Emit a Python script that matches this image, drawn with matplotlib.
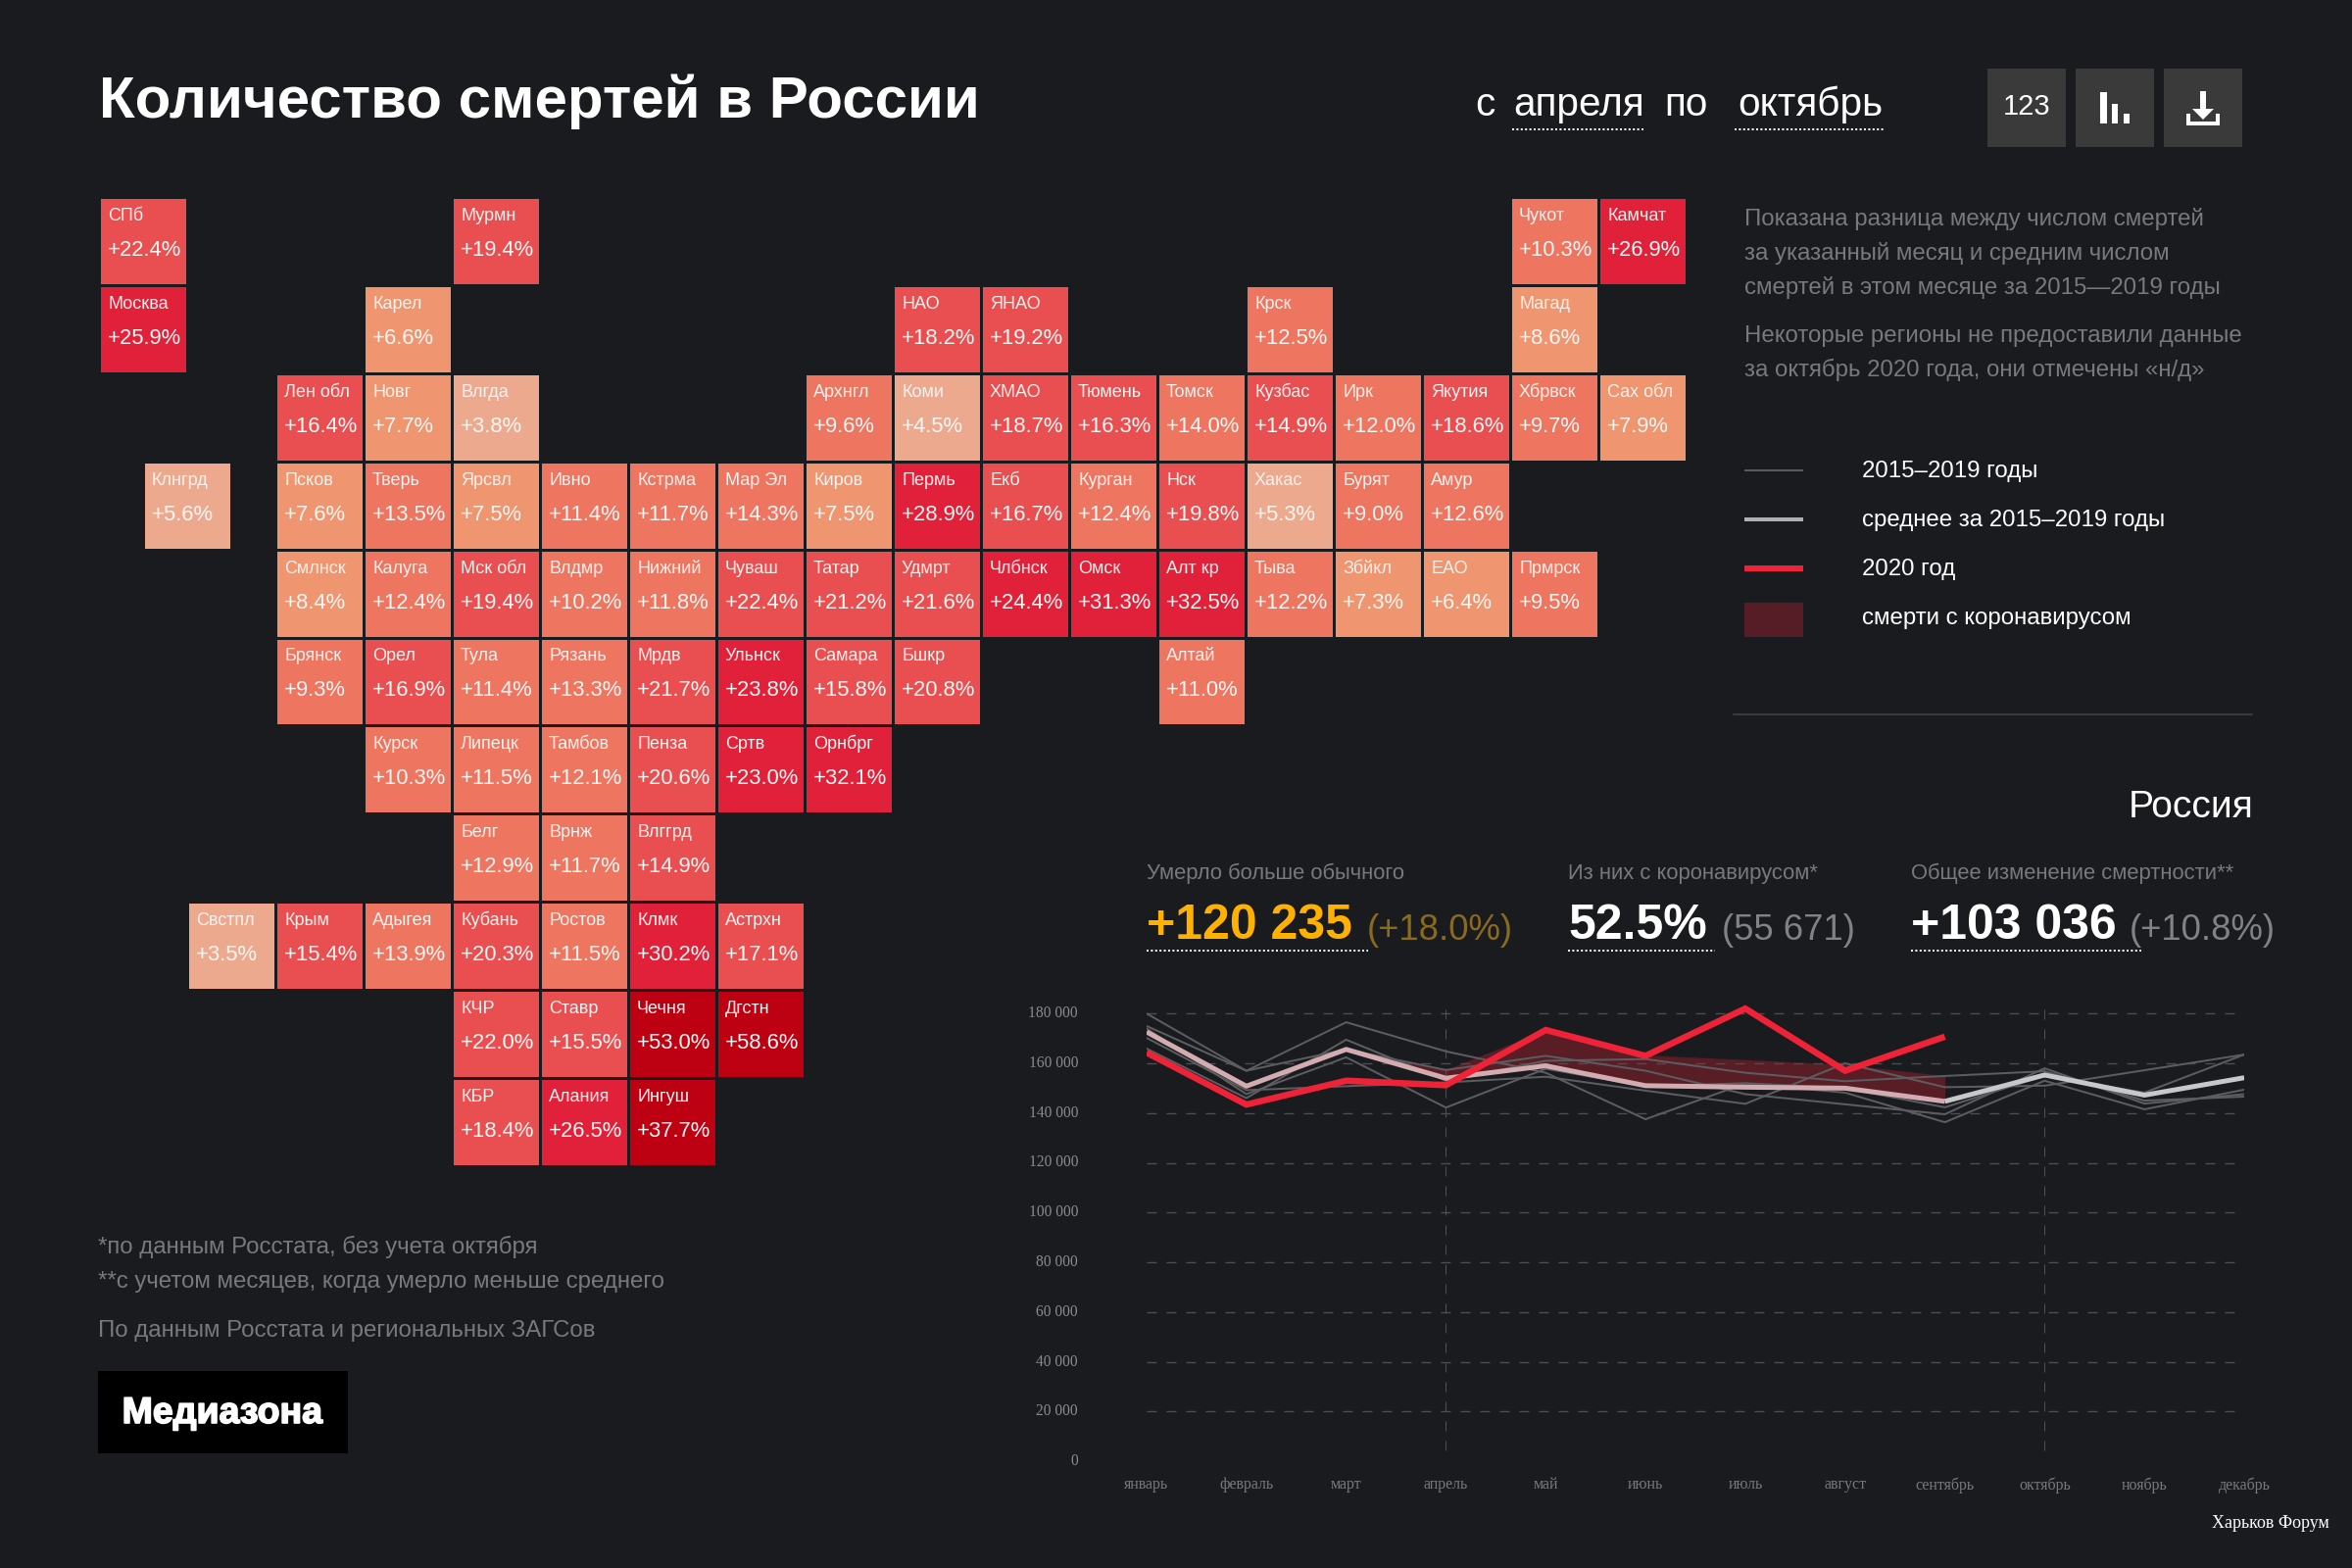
# -*- coding: utf-8 -*-
import matplotlib
matplotlib.use("Agg")
import matplotlib.pyplot as plt
from matplotlib.colors import ListedColormap, BoundaryNorm
from matplotlib.patches import Rectangle, Polygon
from matplotlib.transforms import ScaledTranslation
import matplotlib.patheffects as pe

plt.rcParams['font.family'] = ['Liberation Sans', 'DejaVu Sans']

# tile map
tile_names = ['СПб', 'Мурмн', 'Чукот', 'Камчат',
              'Москва', 'Карел', 'НАО', 'ЯНАО', 'Крск', 'Магад',
              'Лен обл', 'Новг', 'Влгда', 'Архнгл', 'Коми', 'ХМАО', 'Тюмень', 'Томск', 'Кузбас', 'Ирк', 'Якутия', 'Хбрвск', 'Сах обл',
              'Клнгрд', 'Псков', 'Тверь', 'Ярсвл', 'Ивно', 'Кстрма', 'Мар Эл', 'Киров', 'Пермь', 'Екб', 'Курган', 'Нск', 'Хакас', 'Бурят', 'Амур',
              'Смлнск', 'Калуга', 'Мск обл', 'Влдмр', 'Нижний', 'Чуваш', 'Татар', 'Удмрт', 'Члбнск', 'Омск', 'Алт кр', 'Тыва', 'Збйкл', 'ЕАО', 'Прмрск',
              'Брянск', 'Орел', 'Тула', 'Рязань', 'Мрдв', 'Ульнск', 'Самара', 'Бшкр', 'Алтай',
              'Курск', 'Липецк', 'Тамбов', 'Пенза', 'Сртв', 'Орнбрг',
              'Белг', 'Врнж', 'Влггрд',
              'Свстпл', 'Крым', 'Адыгея', 'Кубань', 'Ростов', 'Клмк', 'Астрхн',
              'КЧР', 'Ставр', 'Чечня', 'Дгстн',
              'КБР', 'Алания', 'Ингуш']
tile_values = [22.4, 19.4, 10.3, 26.9,
               25.9, 6.6, 18.2, 19.2, 12.5, 8.6,
               16.4, 7.7, 3.8, 9.6, 4.5, 18.7, 16.3, 14.0, 14.9, 12.0, 18.6, 9.7, 7.9,
               5.6, 7.6, 13.5, 7.5, 11.4, 11.7, 14.3, 7.5, 28.9, 16.7, 12.4, 19.8, 5.3, 9.0, 12.6,
               8.4, 12.4, 19.4, 10.2, 11.8, 22.4, 21.2, 21.6, 24.4, 31.3, 32.5, 12.2, 7.3, 6.4, 9.5,
               9.3, 16.9, 11.4, 13.3, 21.7, 23.8, 15.8, 20.8, 11.0,
               10.3, 11.5, 12.1, 20.6, 23.0, 32.1,
               12.9, 11.7, 14.9,
               3.5, 15.4, 13.9, 20.3, 11.5, 30.2, 17.1,
               22.0, 15.5, 53.0, 58.6,
               18.4, 26.5, 37.7]
tile_cols = [0, 4, 16, 17,
             0, 3, 9, 10, 13, 16,
             2, 3, 4, 8, 9, 10, 11, 12, 13, 14, 15, 16, 17,
             0.5, 2, 3, 4, 5, 6, 7, 8, 9, 10, 11, 12, 13, 14, 15,
             2, 3, 4, 5, 6, 7, 8, 9, 10, 11, 12, 13, 14, 15, 16,
             2, 3, 4, 5, 6, 7, 8, 9, 12,
             3, 4, 5, 6, 7, 8,
             4, 5, 6,
             1, 2, 3, 4, 5, 6, 7,
             4, 5, 6, 7,
             4, 5, 6]
tile_rows = [0] * 4 + [1] * 6 + [2] * 13 + [3] * 15 + [4] * 15 + [5] * 9 + [6] * 6 + [7] * 3 + [8] * 7 + [9] * 4 + [10] * 3

# line chart
months = ['январь', 'февраль', 'март', 'апрель', 'май', 'июнь', 'июль', 'август', 'сентябрь', 'октябрь', 'ноябрь', 'декабрь']
y_ticks = [0, 20000, 40000, 60000, 80000, 100000, 120000, 140000, 160000, 180000]
y_labels = ['0', '20 000', '40 000', '60 000', '80 000', '100 000', '120 000', '140 000', '160 000', '180 000']
year_a = [180000, 157000, 176500, 164800, 156200, 137500, 151900, 148200, 136300, 153000, 141500, 149400]
year_b = [175000, 157000, 165600, 157300, 163000, 157000, 147600, 143500, 139500, 158000, 143800, 147600]
year_c = [170200, 149200, 150800, 152300, 154600, 149000, 143700, 160000, 150400, 151000, 157200, 163500]
year_d = [165900, 146000, 169500, 153000, 161000, 161700, 156200, 152800, 154900, 156800, 145000, 146600]
year_e = [174000, 147600, 162400, 142200, 157800, 150800, 152000, 150000, 142300, 155000, 148200, 163500]
mean_years = [172600, 150800, 165600, 154000, 159000, 151000, 150400, 150000, 144700, 155300, 147200, 154200]
year_2020 = [164300, 143400, 153000, 151200, 173400, 163000, 182000, 157000, 170700]
covid_top = [165600, 157500, 173400, 163300, 161500, 159500, 155000]

BG = '#1a1b1f'
GREY = '#77797d'
RED = '#ee2337'
W, H = 2400, 1600


def fpx(px):
    # font size in pixels -> points at dpi 100
    return px * 0.72


def add_ax(left, top, right, bottom):
    return fig.add_axes([left / W, 1 - bottom / H, (right - left) / W, (bottom - top) / H])


fig = plt.figure(figsize=(24, 16), dpi=100, facecolor=BG)

# page layer, pixel coordinates
page = fig.add_axes([0, 0, 1, 1])
page.set_xlim(0, W)
page.set_ylim(H, 0)
page.axis('off')


def txt(x, y, s, size, color='white', **kw):
    return page.text(x, y, s, fontsize=fpx(size), color=color, va='baseline', **kw)


def dots(x0, x1, y, color='white'):
    page.plot([x0, x1], [y, y], color=color, lw=fpx(2), dashes=(1, 1.2), solid_capstyle='butt', dash_capstyle='butt')


txt(101, 120, 'Количество смертей в России', 60, fontweight='bold')

txt(1505, 118, 'с', 40.5)
txt(1544, 118, 'апреля', 40.5)
txt(1698, 118, 'по', 40.5)
txt(1773, 118, 'октябрь', 40.5)
dots(1543, 1679, 132)
dots(1770, 1922, 132)

for bx in (2028, 2118, 2208):
    page.add_patch(Rectangle((bx, 70), 80, 80, color='#3a3a3a', lw=0))
page.text(2068, 109, '123', fontsize=fpx(29), color='white', ha='center', va='center')
# bar icon
page.add_patch(Rectangle((2143, 94), 7, 32, color='white', lw=0))
page.add_patch(Rectangle((2155, 106), 6, 20, color='white', lw=0))
page.add_patch(Rectangle((2167, 116), 6, 10, color='white', lw=0))
# download icon
page.add_patch(Rectangle((2245, 93), 6, 22, color='white', lw=0))
page.add_patch(Polygon([(2237, 111), (2259, 111), (2248, 122)], color='white', lw=0))
page.plot([2233, 2233, 2263, 2263], [118, 126, 126, 118], color='white', lw=fpx(4), solid_joinstyle='miter')

for y, s in zip((230, 265, 300, 349, 384),
                ('Показана разница между числом смертей',
                 'за указанный месяц и средним числом',
                 'смертей в этом месяце за 2015—2019 годы',
                 'Некоторые регионы не предоставили данные',
                 'за октябрь 2020 года, они отмечены «н/д»')):
    txt(1780, y, s, 24, GREY)

page.plot([1780, 1840], [480, 480], color='#5a5a5a', lw=fpx(2), solid_capstyle='butt')
page.plot([1780, 1840], [530, 530], color='#b0b0b2', lw=fpx(4), solid_capstyle='butt')
page.plot([1780, 1840], [580, 580], color=RED, lw=fpx(6), solid_capstyle='butt')
page.add_patch(Rectangle((1780, 615), 60, 35, color='#561d26', lw=0))
for y, s in zip((487, 537, 587, 637),
                ('2015–2019 годы', 'среднее за 2015–2019 годы', '2020 год', 'смерти с коронавирусом')):
    txt(1900, y, s, 24)

page.plot([1769, 2298], [729, 729], color='#444548', lw=fpx(1.5))
txt(2300, 834, 'Россия', 39, ha='right')

txt(1170, 897, 'Умерло больше обычного', 22, GREY)
txt(1170, 958, '+120 235', 50, '#ffb000', fontweight='bold')
txt(1395, 959, '(+18.0%)', 36.5, '#8a6a1e')
dots(1170, 1396, 970)
txt(1600, 897, 'Из них с коронавирусом*', 22, GREY)
txt(1600, 958, '52.5%', 50, fontweight='bold')
txt(1757, 959, '(55 671)', 36.5, '#808285')
dots(1600, 1750, 970)
txt(1950, 897, 'Общее изменение смертности**', 22, GREY)
txt(1950, 958, '+103 036', 50, fontweight='bold')
txt(2173, 959, '(+10.8%)', 36.5, '#808285')
dots(1950, 2185, 970)

txt(100, 1279, '*по данным Росстата, без учета октября', 24, GREY)
txt(100, 1314, '**с учетом месяцев, когда умерло меньше среднего', 24, GREY)
txt(100, 1364, 'По данным Росстата и региональных ЗАГСов', 24, GREY)
page.add_patch(Rectangle((100, 1399), 255, 84, color='black', lw=0))
txt(227, 1452, 'Медиазона', 37.5, ha='center', fontweight='bold',
    path_effects=[pe.withStroke(linewidth=1.2, foreground='white')])
txt(2257, 1559, 'Харьков Форум', 18, family='Liberation Serif')

# tiles
cmap = ListedColormap(['#eda98e', '#ef956f', '#ee7560', '#e94f50', '#e12039', '#bd0012'])
norm = BoundaryNorm([0, 6, 9, 14.5, 22.8, 35, 100], cmap.N)
ax_map = add_ax(103, 203, 103 + 90 * 18, 203 + 89.9 * 11)
ax_map.set_xlim(0, 18)
ax_map.set_ylim(11, 0)
ax_map.axis('off')
ax_map.bar(tile_cols, [87 / 90] * len(tile_cols), bottom=tile_rows, width=87 / 90, align='edge',
           color=[cmap(norm(v)) for v in tile_values], linewidth=0)
for name, val, c, r in zip(tile_names, tile_values, tile_cols, tile_rows):
    ax_map.text(c + 7 / 90, r + 22 / 90, name, fontsize=fpx(18), color='#fff1ee', va='baseline')
    ax_map.text(c + 7 / 90, r + 58 / 90, '+%.1f%%' % val, fontsize=fpx(22), color='#fff6f4', va='baseline')

# line chart, axes reach above 180 000 so the july peak is not clipped
ax = add_ax(1170, 1491 - 50.75 * 9.5, 2290, 1491)
ax.patch.set_alpha(0)
ax.set_xlim(0, 11)
ax.set_ylim(0, 190000)
for sp in ax.spines.values():
    sp.set_visible(False)
x_all = list(range(12))
ax.hlines(y_ticks[1:], 0, 10.92, color='#4c4d50', lw=fpx(1.4), linestyles=[(0, (10 / 1.4, 10 / 1.4))])
ax.vlines([3, 9], 4300, 182000, color='#4f5054', lw=fpx(1), linestyles=[(0, (10, 10))])
for series in (year_a, year_b, year_c, year_d, year_e):
    ax.plot(x_all, series, color='#5c5d60', lw=fpx(2))
ax.plot(x_all[8:], mean_years[8:], color='#c8c8ca', lw=fpx(5), solid_capstyle='butt')
ax.plot(x_all[:9], mean_years[:9], color='#d3acb1', lw=fpx(5), solid_capstyle='butt')
ax.fill_between(x_all[2:9], mean_years[2:9], covid_top, color=RED, alpha=0.3, lw=0)
ax.plot(x_all[:9], year_2020, color=RED, lw=fpx(6.5), solid_joinstyle='miter', solid_capstyle='butt')
ax.set_xticks(x_all, months, family='Liberation Serif', fontsize=fpx(16), color='#77797d')
ax.set_yticks(y_ticks, y_labels, family='Liberation Serif', fontsize=fpx(15.5), color='#8a8b8f', va='center_baseline')
ax.tick_params(axis='both', length=0)
ax.tick_params(axis='x', pad=fpx(16))
ax.tick_params(axis='y', pad=fpx(70))
# nudge y labels up a little
up = ScaledTranslation(0, 2 / 100, fig.dpi_scale_trans)
for lab in ax.get_yticklabels():
    lab.set_transform(lab.get_transform() + up)

fig.savefig('out.png', dpi=100, facecolor=BG)
